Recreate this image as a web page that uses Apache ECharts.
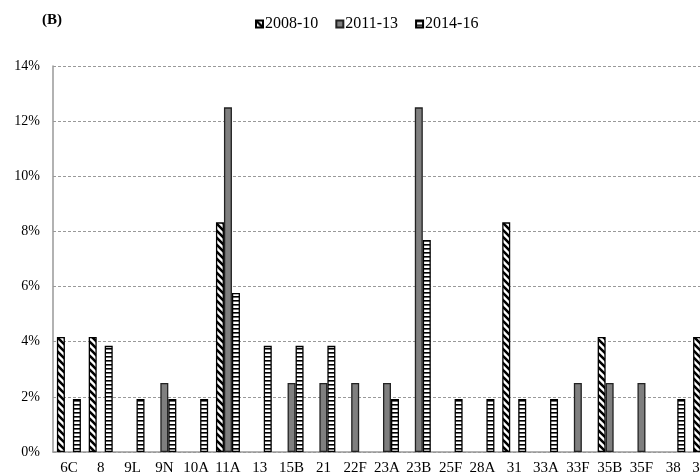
<!DOCTYPE html>
<html>
<head>
<meta charset="utf-8">
<script src="https://cdn.jsdelivr.net/npm/echarts@6/dist/echarts.min.js"></script>
<style>
  html, body { margin: 0; padding: 0; background: #fff; overflow: hidden; }
</style>
</head>
<body>
<!-- chart is wider than the window: the last category is cut off, as in the original -->
<div id="main" style="width:721px;height:476px;"></div>
<script>
// serotype categories (last one is cut off at the right edge)
var categories = ['6C', '8', '9L', '9N', '10A', '11A', '13', '15B', '21', '22F', '23A', '23B', '25F', '28A', '31', '33A', '33F', '35B', '35F', '38', '35A'];
var s2008 = [4.17, 4.17, 0, 0, 0, 8.33, 0, 0, 0, 0, 0, 0, 0, 0, 8.33, 0, 0, 4.17, 0, 0, 4.17];
var s2011 = [0, 0, 0, 2.5, 0, 12.5, 0, 2.5, 2.5, 2.5, 2.5, 12.5, 0, 0, 0, 0, 2.5, 2.5, 2.5, 0, 0];
var s2014 = [1.92, 3.85, 1.92, 1.92, 1.92, 5.77, 3.85, 3.85, 3.85, 0, 1.92, 7.69, 1.92, 1.92, 1.92, 1.92, 0, 0, 0, 1.92, 0];

// zero bars are not drawn at all
function noZero(arr) {
  return arr.map(function (v) { return v === 0 ? null : v; });
}

// hatch patterns
function diagPattern() {
  var c = document.createElement('canvas');
  c.width = 7; c.height = 7;
  var ctx = c.getContext('2d');
  ctx.fillStyle = '#fff';
  ctx.fillRect(0, 0, 7, 7);
  ctx.strokeStyle = '#000';
  ctx.lineWidth = 2.6;
  ctx.beginPath();
  ctx.moveTo(-1, -1); ctx.lineTo(8, 8);
  ctx.moveTo(-5, 2); ctx.lineTo(2, 9);
  ctx.moveTo(2, -5); ctx.lineTo(9, 2);
  ctx.stroke();
  return c;
}
function horizPattern() {
  var c = document.createElement('canvas');
  c.width = 4; c.height = 4;
  var ctx = c.getContext('2d');
  ctx.fillStyle = '#fff';
  ctx.fillRect(0, 0, 4, 4);
  ctx.fillStyle = '#000';
  ctx.fillRect(0, 0, 4, 1.6);
  return c;
}

var myChart = echarts.init(document.getElementById('main'));
var serif = '"Liberation Serif", "DejaVu Serif", serif';

var option = {
  animation: false,
  title: {
    text: '(B)',
    left: 37,
    top: 8,
    textStyle: { fontFamily: serif, fontSize: 15, fontWeight: 'bold', color: '#000' }
  },
  legend: {
    top: 11,
    left: 250,
    itemWidth: 7,
    itemHeight: 7,
    itemGap: 17,
    icon: 'rect',
    textStyle: { fontFamily: serif, fontSize: 16, color: '#000', padding: [0, 0, 0, -3] },
    data: ['2008-10', '2011-13', '2014-16']
  },
  grid: { left: 53, right: 0, top: 66, bottom: 24 },
  xAxis: {
    type: 'category',
    data: categories,
    axisLine: { lineStyle: { color: '#999', width: 1.5 } },
    axisTick: { show: false },
    axisLabel: { fontFamily: serif, fontSize: 15, color: '#000', margin: 9, interval: 0 }
  },
  yAxis: {
    type: 'value',
    min: 0,
    max: 14,
    interval: 2,
    axisLine: { show: true, lineStyle: { color: '#999', width: 1.5 } },
    axisTick: { show: false },
    axisLabel: {
      fontFamily: serif, fontSize: 14, color: '#000', margin: 13,
      formatter: function (v) { return v + '%'; }
    },
    splitLine: { lineStyle: { color: '#999', type: [3, 2] } }
  },
  series: [
    {
      name: '2008-10', type: 'bar', data: noZero(s2008), barWidth: 8, barGap: '0%',
      itemStyle: { color: { image: diagPattern(), repeat: 'repeat' }, borderColor: '#000', borderWidth: 1.3 }
    },
    {
      name: '2011-13', type: 'bar', data: noZero(s2011), barWidth: 8, barGap: '0%',
      itemStyle: { color: '#7f7f7f', borderColor: '#222', borderWidth: 1.3 }
    },
    {
      name: '2014-16', type: 'bar', data: noZero(s2014), barWidth: 8, barGap: '0%',
      itemStyle: { color: { image: horizPattern(), repeat: 'repeat' }, borderColor: '#000', borderWidth: 1.3 }
    }
  ]
};

myChart.setOption(option);
window.addEventListener('resize', function () {
  myChart.resize();
});
</script>
</body>
</html>
